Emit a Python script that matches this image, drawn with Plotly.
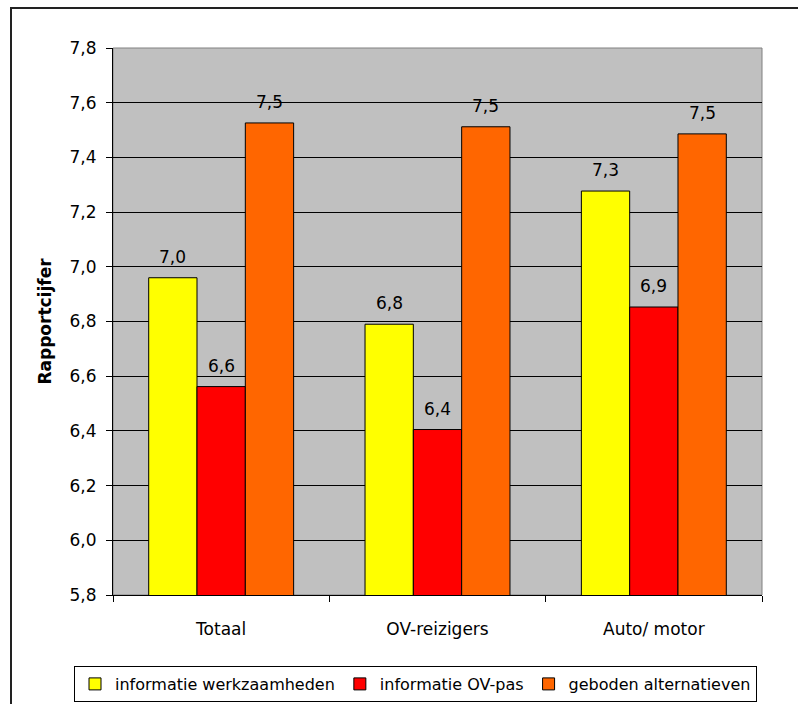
import plotly.graph_objects as go

categories = ["Totaal", "OV-reizigers", "Auto/ motor"]
series_names = ["informatie werkzaamheden", "informatie OV-pas", "geboden alternatieven"]
werkzaamheden = [6.96, 6.79, 7.277]
ov_pas = [6.562, 6.405, 6.853]
alternatieven = [7.526, 7.512, 7.486]
colors = ["#FFFF00", "#FF0000", "#FF6600"]
y_ticks = [5.8, 6.0, 6.2, 6.4, 6.6, 6.8, 7.0, 7.2, 7.4, 7.6, 7.8]

FONT = "DejaVu Sans"
W, H = 798, 704
L, R, T, B = 113, 36, 48, 109
plot_w = W - L - R
plot_h = H - T - B
bargap = 0.33
bar_px = plot_w / len(categories) * (1 - bargap) / 3

fig = go.Figure()
all_series = [werkzaamheden, ov_pas, alternatieven]
for name, vals, col in zip(series_names, all_series, colors):
    fig.add_trace(go.Bar(
        x=categories, y=vals, name=name,
        marker=dict(color=col, line=dict(color="black", width=1)),
    ))

annotations = []
for i, vals in enumerate(all_series):
    for c, v in zip(categories, vals):
        annotations.append(dict(
            x=c, y=v, xref="x", yref="y",
            text=f"{v:.1f}".replace(".", ","),
            showarrow=False, xanchor="center", yanchor="bottom",
            xshift=(i - 1) * bar_px, yshift=9,
            font=dict(family=FONT, size=17, color="black"),
        ))

def px_to_paper_x(px):
    return (px - L) / plot_w

def px_to_paper_y(py):
    return (H - B - py) / plot_h

fig.update_layout(
    width=W, height=H,
    margin=dict(l=L, r=R, t=T, b=B, autoexpand=False),
    paper_bgcolor="white",
    plot_bgcolor="#C0C0C0",
    barmode="group",
    bargap=bargap,
    bargroupgap=0,
    separators=",.",
    font=dict(family=FONT, size=17, color="black"),
    showlegend=True,
    legend=dict(
        orientation="h",
        x=px_to_paper_x(74), xanchor="left",
        y=px_to_paper_y(666), yanchor="top",
        bgcolor="white", bordercolor="black", borderwidth=1,
        font=dict(family=FONT, size=16, color="black"),
        itemwidth=30,
        traceorder="normal",
    ),
    xaxis=dict(
        type="category",
        showgrid=False,
        showline=True, linecolor="black", linewidth=1,
        ticks="outside", tickson="boundaries", ticklen=6, tickcolor="black",
        ticklabelstandoff=19,
        automargin=False,
        tickfont=dict(family=FONT, size=17, color="black"),
    ),
    yaxis=dict(
        range=[5.8, 7.8],
        tickvals=y_ticks,
        tickformat=".1f",
        showgrid=True, gridcolor="black", gridwidth=1,
        showline=True, linecolor="black", linewidth=1,
        ticks="outside", ticklen=6, tickcolor="black",
        ticklabelstandoff=6,
        zeroline=False,
        automargin=False,
        tickfont=dict(family=FONT, size=17, color="black"),
        title=dict(text="<b>Rapportcijfer</b>", standoff=13,
                   font=dict(family=FONT, size=17, color="black")),
    ),
    annotations=annotations,
    shapes=[
        dict(type="rect", xref="paper", yref="paper", x0=0, x1=1, y0=0, y1=1,
             line=dict(color="#808080", width=1), layer="below"),
        dict(type="rect", xref="paper", yref="paper",
             x0=px_to_paper_x(11), x1=px_to_paper_x(805),
             y0=px_to_paper_y(712), y1=px_to_paper_y(8),
             line=dict(color="#222222", width=2), layer="above"),
    ],
)

fig.write_html("out.html")
